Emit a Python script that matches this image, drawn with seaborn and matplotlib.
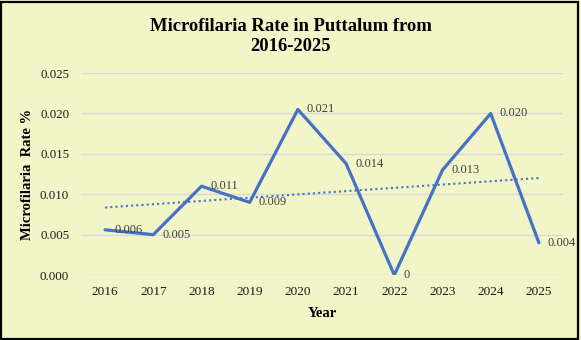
import matplotlib
matplotlib.use("Agg")
import matplotlib.pyplot as plt
import seaborn as sns
import pandas as pd

years = [2016, 2017, 2018, 2019, 2020, 2021, 2022, 2023, 2024, 2025]
rates = [0.0056, 0.0050, 0.0110, 0.0090, 0.0205, 0.0138, 0.0000, 0.0130, 0.0200, 0.0040]
labels = ["0.006", "0.005", "0.011", "0.009", "0.021", "0.014", "0", "0.013", "0.020", "0.004"]
yticks = [0.000, 0.005, 0.010, 0.015, 0.020, 0.025]

df = pd.DataFrame({"Year": years, "Rate": rates})

sns.set_theme(style="white")
plt.rcParams['font.family'] = ['Liberation Serif', 'DejaVu Serif']

bg = "#F2F5C8"
blue = "#4472C4"
fig = plt.figure(figsize=(5.81, 3.40), dpi=100, facecolor=bg)
ax = fig.add_axes([0.1394, 0.191, 0.8296, 0.594])
ax.set_facecolor(bg)

sns.regplot(data=df, x="Year", y="Rate", ax=ax, scatter=False, ci=None, truncate=True,
            line_kws=dict(color=blue, lw=1.5, ls=(0, (1, 1.5))))
sns.lineplot(data=df, x="Year", y="Rate", ax=ax, color=blue, lw=2.3)

for x, y, t in zip(years, rates, labels):
    ax.annotate(t, (x, y), xytext=(6.5, 0), textcoords="offset points",
                ha="left", va="center", fontsize=9, color="#404040")

ax.set_xlim(2015.5, 2025.5)
ax.set_ylim(0, 0.025)
ax.set_yticks(yticks)
ax.set_yticklabels([f"{v:.3f}" for v in yticks])
ax.set_xticks(years)
ax.set_xticklabels([str(y) for y in years])
ax.tick_params(axis="both", length=0, colors="#1a1a1a")
ax.tick_params(axis="y", pad=8.5, labelsize=9.3)
ax.tick_params(axis="x", pad=8, labelsize=9.5)
ax.grid(axis="y", color="#D9D9D9", lw=1)
ax.grid(axis="x", visible=False)
for s in ax.spines.values():
    s.set_visible(False)

ax.set_xlabel("Year", fontsize=10.5, fontweight="bold", color="black", labelpad=6)
ax.set_ylabel("Microfilaria  Rate %", fontsize=10.5, fontweight="bold", color="black")
ax.yaxis.set_label_coords(-0.097, 0.5)

fig.text(0.5, 0.893, "Microfilaria Rate in Puttalum from\n2016-2025", ha="center", va="center",
         fontsize=13.4, fontweight="bold", color="black", linespacing=1.2)

border = plt.Rectangle((0.002, 0.004), 0.993, 0.99, transform=fig.transFigure, fill=False,
                       edgecolor="black", lw=1.6)
fig.patches.append(border)

fig.savefig("out.png", dpi=100, facecolor=bg)
